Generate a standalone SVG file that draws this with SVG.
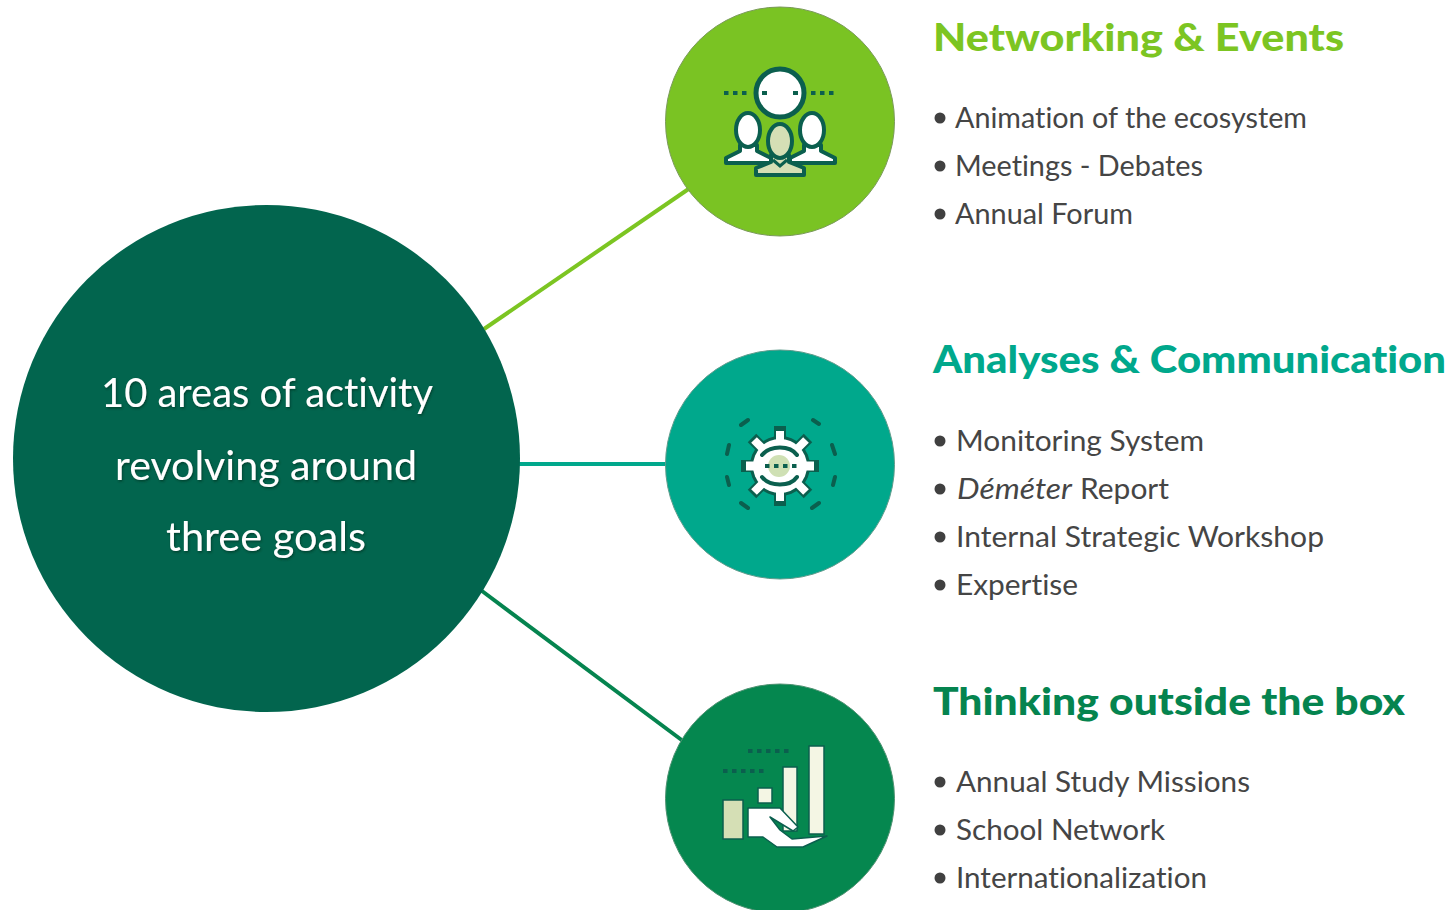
<svg xmlns="http://www.w3.org/2000/svg" width="1452" height="910" viewBox="0 0 1452 910">
<defs><filter id="ts" x="-5%" y="-20%" width="110%" height="140%"><feDropShadow dx="1" dy="1.500" stdDeviation="1" flood-color="#003020" flood-opacity="0.700"/></filter></defs>
<style>
text{font-family:Lato,"Liberation Sans",sans-serif;font-variant-ligatures:none}
.h{font-size:38px;font-weight:900}
.b{font-size:28px;fill:#454545}
.c{font-size:40px;fill:#fff;text-anchor:middle;font-weight:400;filter:url(#ts)}
.d{fill:#404040}
.k{fill:none;stroke:#0b5f4e;stroke-width:4;stroke-linecap:round;stroke-linejoin:round}
.dot{fill:none;stroke:#0b5f4e;stroke-width:4;stroke-dasharray:4.5 4.5}
.o{stroke:#0b5f4e;stroke-width:4;stroke-linejoin:round}
</style>
<rect width="1452" height="910" fill="#fff"/>
<g id="connectors" fill="none" stroke-width="4">
<line x1="484" y1="329" x2="690" y2="188" stroke="#7cc522"/>
<line x1="519" y1="464" x2="666" y2="464" stroke="#00a88c"/>
<line x1="482" y1="591" x2="683" y2="741" stroke="#05844f"/>
</g>
<g id="center">
<circle cx="266.500" cy="458.500" r="253.500" fill="#02654e"/>
<text class="c" x="267" y="406.500" textLength="332" lengthAdjust="spacingAndGlyphs">10 areas of activity</text>
<text class="c" x="266" y="479.500" textLength="302" lengthAdjust="spacingAndGlyphs">revolving around</text>
<text class="c" x="266" y="550.500" textLength="200" lengthAdjust="spacingAndGlyphs">three goals</text>
</g>
<g id="node-networking">
<circle cx="780" cy="121.500" r="114.500" fill="#7ac323" stroke="#7a9a5a" stroke-width="1"/>
<path class="dot" d="M724 93H750M811 93H836"/>
<circle cx="780" cy="93" r="24" fill="#fff" stroke="#0b5f4e" stroke-width="5"/>
<path d="M762 93h5M793 93h5" stroke="#0b5f4e" stroke-width="4"/>
<path class="o" d="M726 163v-5l14-7v-6h17v6l14 7v5z" fill="#fff"/>
<path class="o" d="M835 163v-5l-14-7v-6h-17v6l-14 7v5z" fill="#fff"/>
<ellipse class="o" cx="748" cy="130" rx="12" ry="17" fill="#fff"/>
<ellipse class="o" cx="812" cy="130" rx="12" ry="17" fill="#fff"/>
<path class="o" d="M756 175v-7l15-6v-7h18v7l15 6v7z" fill="#d5dfb5"/>
<ellipse class="o" cx="780" cy="141" rx="12" ry="17" fill="#d5dfb5"/>
<path d="M773 160l7 6 7-6" fill="none" stroke="#0b5f4e" stroke-width="3"/>
</g>
<g id="node-analyses">
<circle cx="780" cy="464.500" r="114.500" fill="#00a88c" stroke="#5f9c8c" stroke-width="1"/>
<g stroke="#0b5f4e" stroke-width="12">
<path d="M780 466V426M780 466V506M780 466H741M780 466H819M780 466L752 438M780 466L808 438M780 466L752 494M780 466L808 494"/>
<circle cx="780" cy="466" r="30" fill="#0b5f4e" stroke="none"/>
</g>
<g stroke="#fff">
<path stroke-width="8" d="M780 466V431M780 466V501M780 466L754 440M780 466L806 440M780 466L754 492M780 466L806 492"/>
<path stroke-width="9" d="M780 466H746M780 466H814"/>
<circle cx="780" cy="466" r="27" fill="#fff" stroke="none"/>
</g>
<circle cx="779" cy="466" r="11" fill="#cfe0b4"/>
<path class="dot" d="M765 466H797"/>
<path class="k" d="M762 455c8-10 28-10 35 0M762 477c8 10 28 10 35 0"/>
<path class="k" stroke-linecap="butt" d="M741 425l7-5M813 420l6 4M727 454l2-9M832 445l3 9M727 477l2 8M833 485l2-8M741 503l7 5M812 508l7-5"/>
</g>
<g id="node-thinking">
<circle cx="780" cy="798.500" r="114.500" fill="#05874f" stroke="#4f9272" stroke-width="1"/>
<path class="dot" d="M748 751H792M723 771H768"/>
<rect x="723" y="800" width="20" height="39" fill="#d5dfb5" stroke="#0b5f4e" stroke-width="1.500"/>
<rect x="758" y="788" width="14" height="15" fill="#f4f6e4" stroke="#0b5f4e" stroke-width="1.500"/>
<rect x="783" y="767" width="14" height="64" fill="#f4f6e4" stroke="#0b5f4e" stroke-width="1.500"/>
<rect x="809" y="746" width="15" height="88" fill="#f4f6e4" stroke="#0b5f4e" stroke-width="1.500"/>
<path d="M748 808h32l18 19-5 4-23-14 10 13 12 9 35-3-24 11h-26l-14-10h-15z" fill="#fff" stroke="#0b5f4e" stroke-width="1.500" stroke-linejoin="round"/>
</g>
<g id="text-networking">
<text class="h" x="933" y="51" fill="#7cc522" textLength="411" lengthAdjust="spacingAndGlyphs">Networking &amp; Events</text>
<circle class="d" cx="940" cy="118" r="5.500"/><text class="b" x="955" y="128" textLength="352" lengthAdjust="spacingAndGlyphs">Animation of the ecosystem</text>
<circle class="d" cx="940" cy="166" r="5.500"/><text class="b" x="955" y="176" textLength="248" lengthAdjust="spacingAndGlyphs">Meetings - Debates</text>
<circle class="d" cx="940" cy="214" r="5.500"/><text class="b" x="955" y="224" textLength="178" lengthAdjust="spacingAndGlyphs">Annual Forum</text>
</g>
<g id="text-analyses">
<text class="h" x="933" y="373" fill="#00a88c" textLength="513" lengthAdjust="spacingAndGlyphs">Analyses &amp; Communication</text>
<circle class="d" cx="940" cy="441" r="5.500"/><text class="b" x="956" y="451" textLength="248" lengthAdjust="spacingAndGlyphs">Monitoring System</text>
<circle class="d" cx="940" cy="489" r="5.500"/><text class="b" x="957" y="499"><tspan font-style="italic" textLength="115" lengthAdjust="spacingAndGlyphs">Déméter</tspan><tspan x="1080" textLength="89" lengthAdjust="spacingAndGlyphs">Report</tspan></text>
<circle class="d" cx="940" cy="537" r="5.500"/><text class="b" x="956" y="547" textLength="368" lengthAdjust="spacingAndGlyphs">Internal Strategic Workshop</text>
<circle class="d" cx="940" cy="585" r="5.500"/><text class="b" x="956" y="595" textLength="122" lengthAdjust="spacingAndGlyphs">Expertise</text>
</g>
<g id="text-thinking">
<text class="h" x="933" y="715" fill="#05844f" textLength="472" lengthAdjust="spacingAndGlyphs">Thinking outside the box</text>
<circle class="d" cx="940" cy="782" r="5.500"/><text class="b" x="956" y="792" textLength="294" lengthAdjust="spacingAndGlyphs">Annual Study Missions</text>
<circle class="d" cx="940" cy="830" r="5.500"/><text class="b" x="956" y="840" textLength="209" lengthAdjust="spacingAndGlyphs">School Network</text>
<circle class="d" cx="940" cy="878" r="5.500"/><text class="b" x="956" y="888" textLength="251" lengthAdjust="spacingAndGlyphs">Internationalization</text>
</g>
</svg>
